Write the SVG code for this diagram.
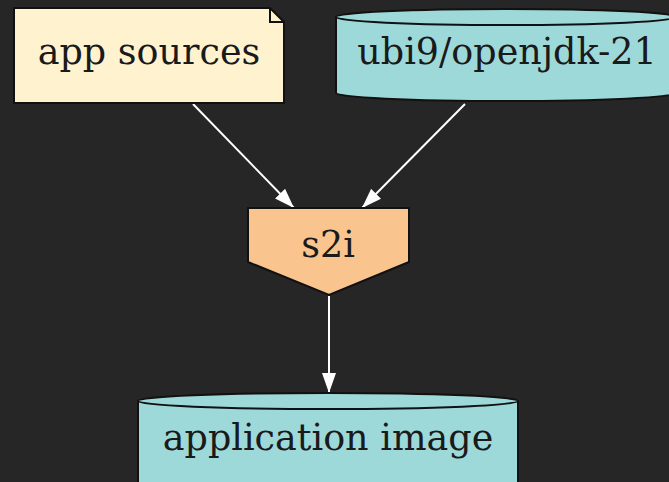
<svg xmlns="http://www.w3.org/2000/svg" width="669" height="482" viewBox="0 0 669 482">
<style>
.t{font-family:"DejaVu Serif","Liberation Serif",serif;font-size:36.5px;fill:#1a1a1a;text-anchor:middle}
.s{stroke:#111;stroke-width:2}
.e{stroke:#fff;stroke-width:2;fill:none}
</style>
<defs>
<marker id="a" viewBox="0 0 20 14" refX="20" refY="7" markerWidth="20" markerHeight="14" markerUnits="userSpaceOnUse" orient="auto">
<path d="M0,0 L20,7 L0,14 z" fill="#fff"/>
</marker>
</defs>
<rect width="669" height="482" fill="#262626"/>
<g id="edges">
<line class="e" x1="193" y1="104" x2="294" y2="208" marker-end="url(#a)"/>
<line class="e" x1="465" y1="104" x2="362" y2="208" marker-end="url(#a)"/>
<line class="e" x1="329" y1="296" x2="329" y2="393" marker-end="url(#a)"/>
</g>
<g id="app-sources">
<path class="s" d="M14,8 H270 L284,22 V103 H14 Z" fill="#fff3cf"/>
<path class="s" d="M270,8 V22 H284" fill="none"/>
<text class="t" x="149" y="64">app sources</text>
</g>
<g id="ubi9">
<path class="s" d="M336,17 A170,8 0 0 1 676,17 V93 A170,8 0 0 1 336,93 Z" fill="#9ed9d9"/>
<path class="s" d="M336,17 A170,8 0 0 0 676,17" fill="none"/>
<text class="t" x="507" y="64">ubi9/openjdk-21</text>
</g>
<g id="s2i">
<path class="s" d="M248,208 H409 V262 L329,295 L248,262 Z" fill="#f9c48e"/>
<text class="t" x="328" y="257">s2i</text>
</g>
<g id="application-image">
<path class="s" d="M138,401 A190,8 0 0 1 518,401 V490 H138 Z" fill="#9ed9d9"/>
<path class="s" d="M138,401 A190,8 0 0 0 518,401" fill="none"/>
<text class="t" x="328" y="450">application image</text>
</g>
</svg>
